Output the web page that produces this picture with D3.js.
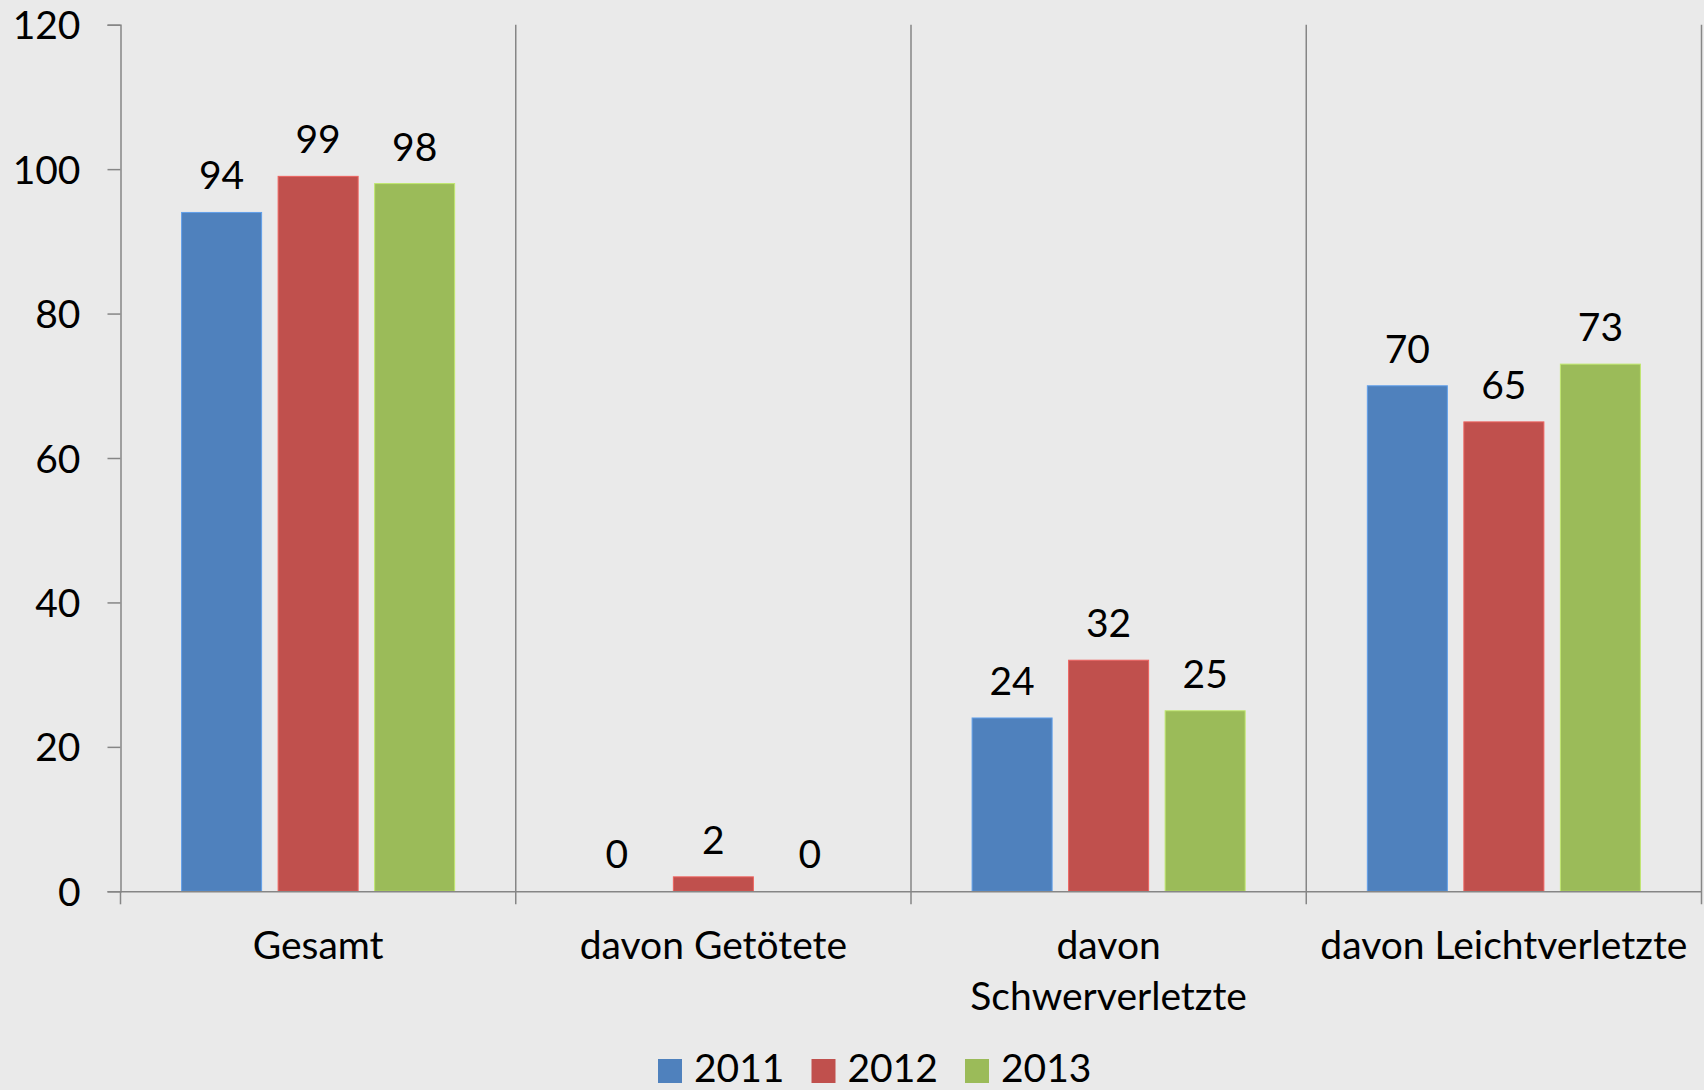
<!DOCTYPE html>
<html>
<head>
<meta charset="utf-8">
<script src="https://cdn.jsdelivr.net/npm/d3@7"></script>
<style>
  html, body { margin: 0; padding: 0; background: #EAEAEA; }
  svg { display: block; }
  text { font-family: Lato, "Open Sans", sans-serif; fill: #000; }
</style>
</head>
<body>
<svg id="chart" width="1704" height="1090"></svg>
<script>
const categories = ["Gesamt", "davon Getötete", "davon Schwerverletzte", "davon Leichtverletzte"];
const seriesNames = ["2011", "2012", "2013"];
const values2011 = [94, 0, 24, 70];
const values2012 = [99, 2, 32, 65];
const values2013 = [98, 0, 25, 73];
const yTicks = [0, 20, 40, 60, 80, 100, 120];
const colors = ["#4F81BD", "#C0504D", "#9BBB59"];

const seriesValues = [values2011, values2012, values2013];
const W = 1704, H = 1090;
const margin = { left: 120.5, right: 2.5, top: 24.7, bottom: 198.7 };
const FS = 39;
const axisColor = "#868686";

const svg = d3.select("#chart");
svg.append("rect").attr("width", W).attr("height", H).attr("fill", "#EAEAEA");

const x0 = d3.scaleBand().domain(categories).range([margin.left, W - margin.right]).paddingInner(0).paddingOuter(0);
const x1 = d3.scaleBand().domain(seriesNames).range([0, x0.bandwidth()]).paddingInner(0.171).paddingOuter(0.633);
const y = d3.scaleLinear().domain([0, 120]).range([H - margin.bottom, margin.top]);

// vertical category separators
const bounds = categories.map(c => x0(c) + x0.bandwidth());
svg.append("g").selectAll("line").data(bounds).join("line")
  .attr("x1", d => d).attr("x2", d => d)
  .attr("y1", y(120)).attr("y2", y(0) + 13)
  .attr("stroke", axisColor).attr("stroke-width", 1.5);

// bars
const data = categories.map((c, i) => ({ cat: c, vals: seriesNames.map((s, j) => ({ s, j, v: seriesValues[j][i] })) }));
const groups = svg.append("g").selectAll("g").data(data).join("g")
  .attr("transform", d => `translate(${x0(d.cat)},0)`);

groups.selectAll("rect").data(d => d.vals).join("rect")
  .attr("x", d => x1(d.s))
  .attr("width", x1.bandwidth())
  .attr("y", d => y(d.v))
  .attr("height", d => y(0) - y(d.v))
  .attr("fill", d => colors[d.j])
  .attr("stroke", d => d3.color(colors[d.j]).brighter(0.6))
  .attr("stroke-width", d => d.v > 0 ? 1 : 0);

groups.selectAll("text.val").data(d => d.vals).join("text")
  .attr("class", "val")
  .attr("x", d => x1(d.s) + x1.bandwidth() / 2)
  .attr("y", d => y(d.v) - 23)
  .attr("text-anchor", "middle")
  .attr("font-size", FS)
  .text(d => d.v);

// y axis
const yAxis = svg.append("g").attr("transform", `translate(${margin.left},0)`)
  .call(d3.axisLeft(y).tickValues(yTicks).tickSize(13).tickPadding(27).tickFormat(d3.format("d")));
yAxis.select(".domain").attr("stroke", axisColor).attr("stroke-width", 1.5);
yAxis.selectAll(".tick line").attr("stroke", axisColor).attr("stroke-width", 1.5);
yAxis.selectAll(".tick text").attr("font-size", FS).attr("font-family", "Lato, sans-serif").attr("fill", "#000").attr("dy", "0.36em");

// x axis
const xAxis = svg.append("g").attr("transform", `translate(0,${y(0)})`)
  .call(d3.axisBottom(x0).tickSize(0).tickFormat(""));
xAxis.select(".domain").attr("stroke", axisColor).attr("stroke-width", 1.5);
svg.append("line").attr("x1", margin.left).attr("x2", margin.left)
  .attr("y1", y(0)).attr("y2", y(0) + 13).attr("stroke", axisColor).attr("stroke-width", 1.5);

// category labels with wrapping
const maxW = 380;
const catG = svg.append("g");
categories.forEach(c => {
  const cx = x0(c) + x0.bandwidth() / 2;
  const t = catG.append("text")
    .attr("x", cx)
    .attr("y", 959.3)
    .attr("text-anchor", "middle")
    .attr("font-size", FS);
  const words = c.split(" ");
  let line = [];
  let ts = t.append("tspan").attr("x", cx).attr("dy", 0);
  words.forEach(w => {
    line.push(w);
    ts.text(line.join(" "));
    if (ts.node().getComputedTextLength() > maxW && line.length > 1) {
      line.pop();
      ts.text(line.join(" "));
      line = [w];
      ts = t.append("tspan").attr("x", cx).attr("dy", 51).text(w);
    }
  });
});

// legend
const legend = svg.append("g");
seriesNames.forEach((s, i) => {
  const lx = 658 + i * 153.5;
  legend.append("rect").attr("x", lx).attr("y", 1059).attr("width", 24).attr("height", 24).attr("fill", colors[i]);
  legend.append("text").attr("x", lx + 36).attr("y", 1082).attr("font-size", FS).text(s);
});
</script>
</body>
</html>
